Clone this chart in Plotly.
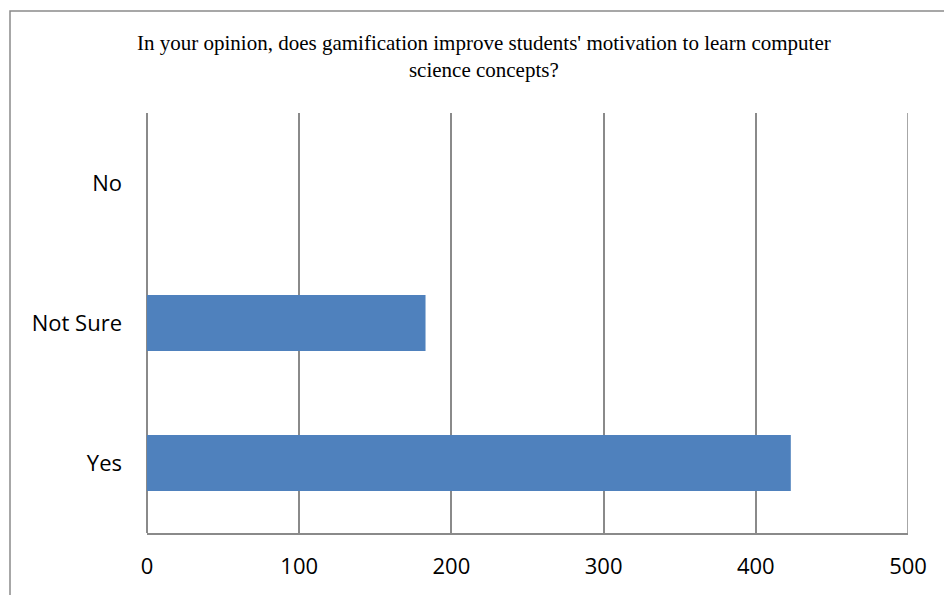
import plotly.graph_objects as go

categories = ["Yes", "Not Sure", "No"]
values = [423, 183, 0]
x_ticks = [0, 100, 200, 300, 400, 500]
title_text = ("In your opinion, does gamification improve students' motivation to learn computer"
              "<br>science concepts?")

W, H = 944, 595
L, R, T, B = 147, 36, 113, 62
pw, ph = W - L - R, H - T - B

def px(x):
    return (x - L) / pw

def py(y):
    return (H - B - y) / ph

grid = "#8a8a8a"

fig = go.Figure(go.Bar(
    y=categories, x=values, orientation="h",
    marker=dict(color="#4F81BD", line=dict(width=0)),
))

fig.update_layout(
    width=W, height=H,
    margin=dict(l=L, r=R, t=T, b=B),
    paper_bgcolor="white", plot_bgcolor="white",
    showlegend=False, bargap=0.6,
    font=dict(family="Open Sans", size=22, color="black"),
    xaxis=dict(range=[0, 500], tickvals=x_ticks, showgrid=True, gridcolor=grid, gridwidth=1.5,
               zeroline=True, zerolinecolor=grid, zerolinewidth=1.5,
               showline=True, linecolor=grid, linewidth=1.5, ticks="",
               ticklabelstandoff=13, fixedrange=True),
    yaxis=dict(categoryorder="array", categoryarray=categories, showgrid=False,
               zeroline=False, showline=False, ticks="", ticklabelstandoff=24),
    annotations=[dict(text=title_text, x=px(484), y=py(56), xref="paper", yref="paper",
                      xanchor="center", yanchor="middle", showarrow=False, align="center",
                      font=dict(family="Liberation Serif", size=21, color="black"))],
    shapes=[dict(type="rect", xref="paper", yref="paper", x0=px(10), x1=px(990),
                 y0=py(640), y1=py(11), line=dict(color="#8a8a8a", width=1.5)),
            dict(type="line", xref="x", yref="paper", x0=x_ticks[-1], x1=x_ticks[-1],
                 y0=0, y1=1, line=dict(color=grid, width=1.5))],
)

fig.write_html("out.html")
